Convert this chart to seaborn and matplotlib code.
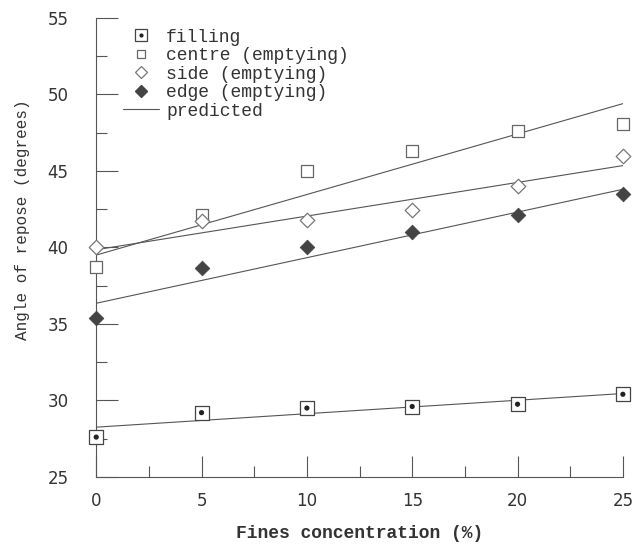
import numpy as np
import pandas as pd
import matplotlib
matplotlib.use("Agg")
import matplotlib.pyplot as plt
import seaborn as sns
from matplotlib.lines import Line2D
from matplotlib.ticker import MultipleLocator

# measured angles of repose vs fines concentration
fines = [0, 5, 10, 15, 20, 25]
filling = [27.6, 29.2, 29.5, 29.6, 29.75, 30.4]
centre = [38.7, 42.15, 45.0, 46.3, 47.6, 48.05]
side = [40.0, 41.7, 41.8, 42.45, 44.0, 46.0]
edge = [35.4, 38.65, 40.0, 41.0, 42.1, 43.5]

# predicted lines (end points)
pred_x = [0, 25]
pred_filling = [28.25, 30.45]
pred_centre = [39.5, 49.4]
pred_side = [39.85, 45.35]
pred_edge = [36.35, 43.8]

sns.set_style("white")
plt.rcParams["font.family"] = ["Liberation Mono", "DejaVu Sans"]

TXT = "#333333"
LN = "#555555"

fig = plt.figure(figsize=(6.33, 5.45), dpi=100)
ax = fig.add_axes([0.152, 0.125, 0.832, 0.842])

pts = pd.DataFrame({"fines": fines, "filling": filling, "centre": centre,
                    "side": side, "edge": edge})
pred = pd.DataFrame({"x": pred_x, "filling": pred_filling, "centre": pred_centre,
                     "side": pred_side, "edge": pred_edge})

for col in ["filling", "centre", "side", "edge"]:
    sns.lineplot(data=pred, x="x", y=col, ax=ax, color=LN, lw=0.8, zorder=1)

# filling: open square with a dot in it
sns.scatterplot(data=pts, x="fines", y="filling", ax=ax, marker="s", s=110,
                facecolor="white", edgecolor="#444444", linewidth=0.9, zorder=3,
                clip_on=False)
sns.scatterplot(data=pts, x="fines", y="filling", ax=ax, marker="o", s=14,
                color="#222222", edgecolor="none", zorder=4, clip_on=False)
sns.scatterplot(data=pts, x="fines", y="centre", ax=ax, marker="s", s=70,
                facecolor="white", edgecolor="#666666", linewidth=0.9, zorder=3,
                clip_on=False)
sns.scatterplot(data=pts, x="fines", y="side", ax=ax, marker="D", s=55,
                facecolor="white", edgecolor="#777777", linewidth=0.9, zorder=3,
                clip_on=False)
sns.scatterplot(data=pts, x="fines", y="edge", ax=ax, marker="D", s=55,
                color="#444444", edgecolor="#444444", zorder=3, clip_on=False)

ax.set_xlim(0, 25)
ax.set_ylim(25, 55)
ax.xaxis.set_major_locator(MultipleLocator(5))
ax.xaxis.set_minor_locator(MultipleLocator(2.5))
ax.yaxis.set_major_locator(MultipleLocator(5))
ax.yaxis.set_minor_locator(MultipleLocator(2.5))
ax.tick_params(axis="both", which="both", bottom=True, left=True)
ax.tick_params(axis="y", which="major", direction="in", length=16, width=0.8,
               colors=LN, labelcolor=TXT, pad=20, labelsize=12)
ax.tick_params(axis="y", which="minor", direction="in", length=8, width=0.8, colors=LN)
ax.tick_params(axis="x", which="major", direction="in", length=15, width=0.8,
               colors=LN, labelcolor=TXT, pad=11, labelsize=12)
ax.tick_params(axis="x", which="minor", direction="in", length=8, width=0.8, colors=LN)
for lab in ax.get_xticklabels() + ax.get_yticklabels():
    lab.set_fontfamily("DejaVu Sans")
sns.despine(ax=ax)
for s in ["left", "bottom"]:
    ax.spines[s].set_color(LN)
    ax.spines[s].set_linewidth(0.8)

ax.set_xlabel("Fines concentration (%)", fontsize=13, color=TXT, labelpad=11,
              fontweight="bold")
ax.set_ylabel("Angle of repose (degrees)", fontsize=11.5, color=TXT)
ax.yaxis.set_label_coords(-0.125, 0.56)

handles = [
    (Line2D([], [], ls="none", marker="s", ms=9, mfc="white", mec="#444444", mew=0.9),
     Line2D([], [], ls="none", marker="o", ms=3, mfc="#222222", mec="none")),
    Line2D([], [], ls="none", marker="s", ms=6, mfc="white", mec="#666666", mew=0.9),
    Line2D([], [], ls="none", marker="D", ms=6, mfc="white", mec="#777777", mew=0.9),
    Line2D([], [], ls="none", marker="D", ms=6, mfc="#444444", mec="#444444"),
    Line2D([], [], color=LN, lw=0.8),
]
labels = ["filling", "centre (emptying)", "side (emptying)", "edge (emptying)", "predicted"]
leg = ax.legend(handles, labels, loc="upper left", bbox_to_anchor=(0.03, 1.0),
                frameon=False, fontsize=13, handlelength=2.0, handletextpad=0.4,
                labelspacing=0.08, borderaxespad=0.2)
for t in leg.get_texts():
    t.set_color(TXT)

fig.savefig("out.png", dpi=100)
